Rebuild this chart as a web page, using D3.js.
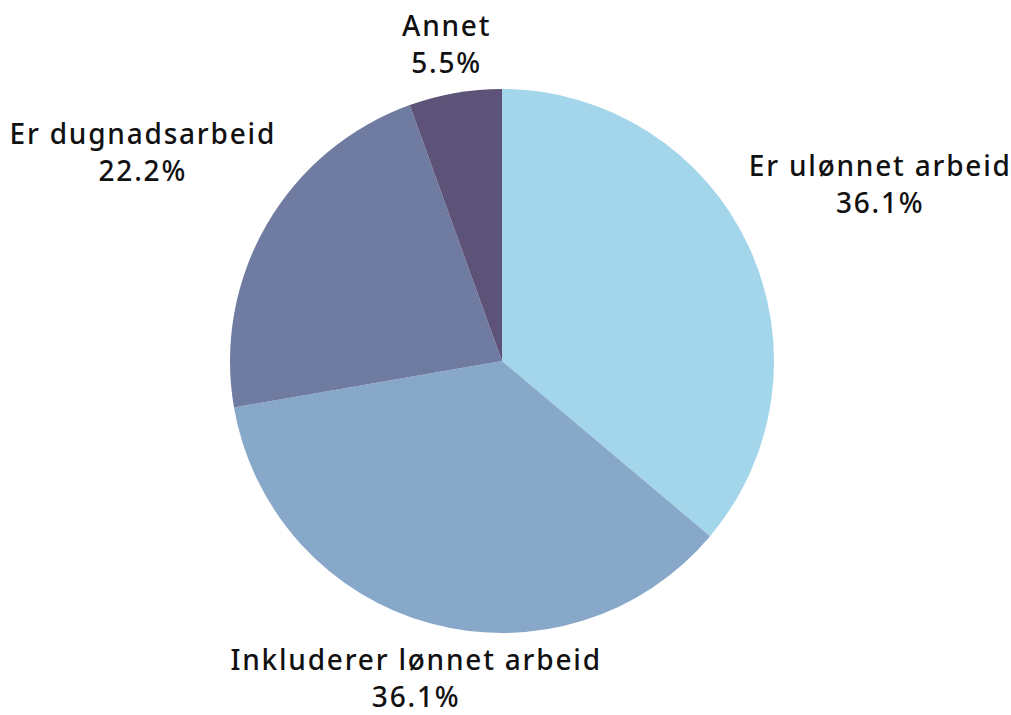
<!DOCTYPE html>
<html>
<head>
<meta charset="utf-8">
<script src="https://cdn.jsdelivr.net/npm/d3@7"></script>
<style>
    html, body { margin: 0; padding: 0; background: #ffffff; }
    svg { display: block; }
    text { font-family: "Noto Sans", "Open Sans", sans-serif; font-weight: 500; fill: #111111; }
</style>
</head>
<body>
<div id="chart"></div>
<script>
    var categories = [ "Er ulønnet arbeid", "Inkluderer lønnet arbeid", "Er dugnadsarbeid", "Annet" ];
    var values = [ 36.1, 36.1, 22.2, 5.5 ];
    var colors = [ "#a3d5eb", "#87a8c9", "#707ba2", "#5d5277" ];

    var width = 1011, height = 715;
    var cx = 502, cy = 361, radius = 272;
    var labelRadius = 286;
    var fontSize = 28, lineSpacing = 37, letterSpacing = 1.8;
    var capHeight = fontSize * 0.714;
    var half = ( capHeight + lineSpacing ) / 2;

    var svg = d3.select( "#chart" ).append( "svg" )
        .attr( "width", width )
        .attr( "height", height );

    var data = categories.map( function ( c, i ) {
        return { name: c, value: values[ i ], color: colors[ i ] };
    });

    var pie = d3.pie()
        .sort( null )
        .value( function ( d ) { return d.value } );

    var arc = d3.arc()
        .innerRadius( 0 )
        .outerRadius( radius );

    var arcs = pie( data );

    var g = svg.append( "g" )
        .attr( "transform", "translate(" + cx + "," + cy + ")" );

    g.selectAll( "path" )
        .data( arcs )
        .enter().append( "path" )
        .attr( "d", arc )
        .attr( "fill", function ( d ) { return d.data.color } );

    // labels: two lines, pushed out along the mid-angle so the box clears the pie
    var labels = g.selectAll( "g.label" )
        .data( arcs )
        .enter().append( "g" )
        .attr( "class", "label" );

    var text = labels.append( "text" )
        .attr( "text-anchor", "middle" )
        .style( "font-size", fontSize + "px" )
        .style( "letter-spacing", letterSpacing + "px" );

    text.append( "tspan" )
        .attr( "x", 0 )
        .attr( "y", -half + capHeight )
        .text( function ( d ) { return d.data.name } );

    text.append( "tspan" )
        .attr( "x", 0 )
        .attr( "y", half )
        .text( function ( d ) { return d3.format( ".1f" )( d.data.value ) + "%" } );

    labels.attr( "transform", function ( d ) {
        var bb = this.getBBox();
        var a = ( d.startAngle + d.endAngle ) / 2;
        var sx = Math.sin( a ), sy = -Math.cos( a );
        var w = bb.width / 2;
        var r = labelRadius + Math.abs( sx ) * w + Math.abs( sy ) * half;
        var x = sx * r, y = sy * r;
        // keep the label inside the picture
        var maxY = height - 8 - cy - half, minY = -cy + 8 + half;
        if ( y > maxY ) {
            x = x * maxY / y;
            y = maxY;
        }
        if ( y < minY ) {
            x = x * minY / y;
            y = minY;
        }
        return "translate(" + x + "," + y + ")";
    });
</script>
</body>
</html>
